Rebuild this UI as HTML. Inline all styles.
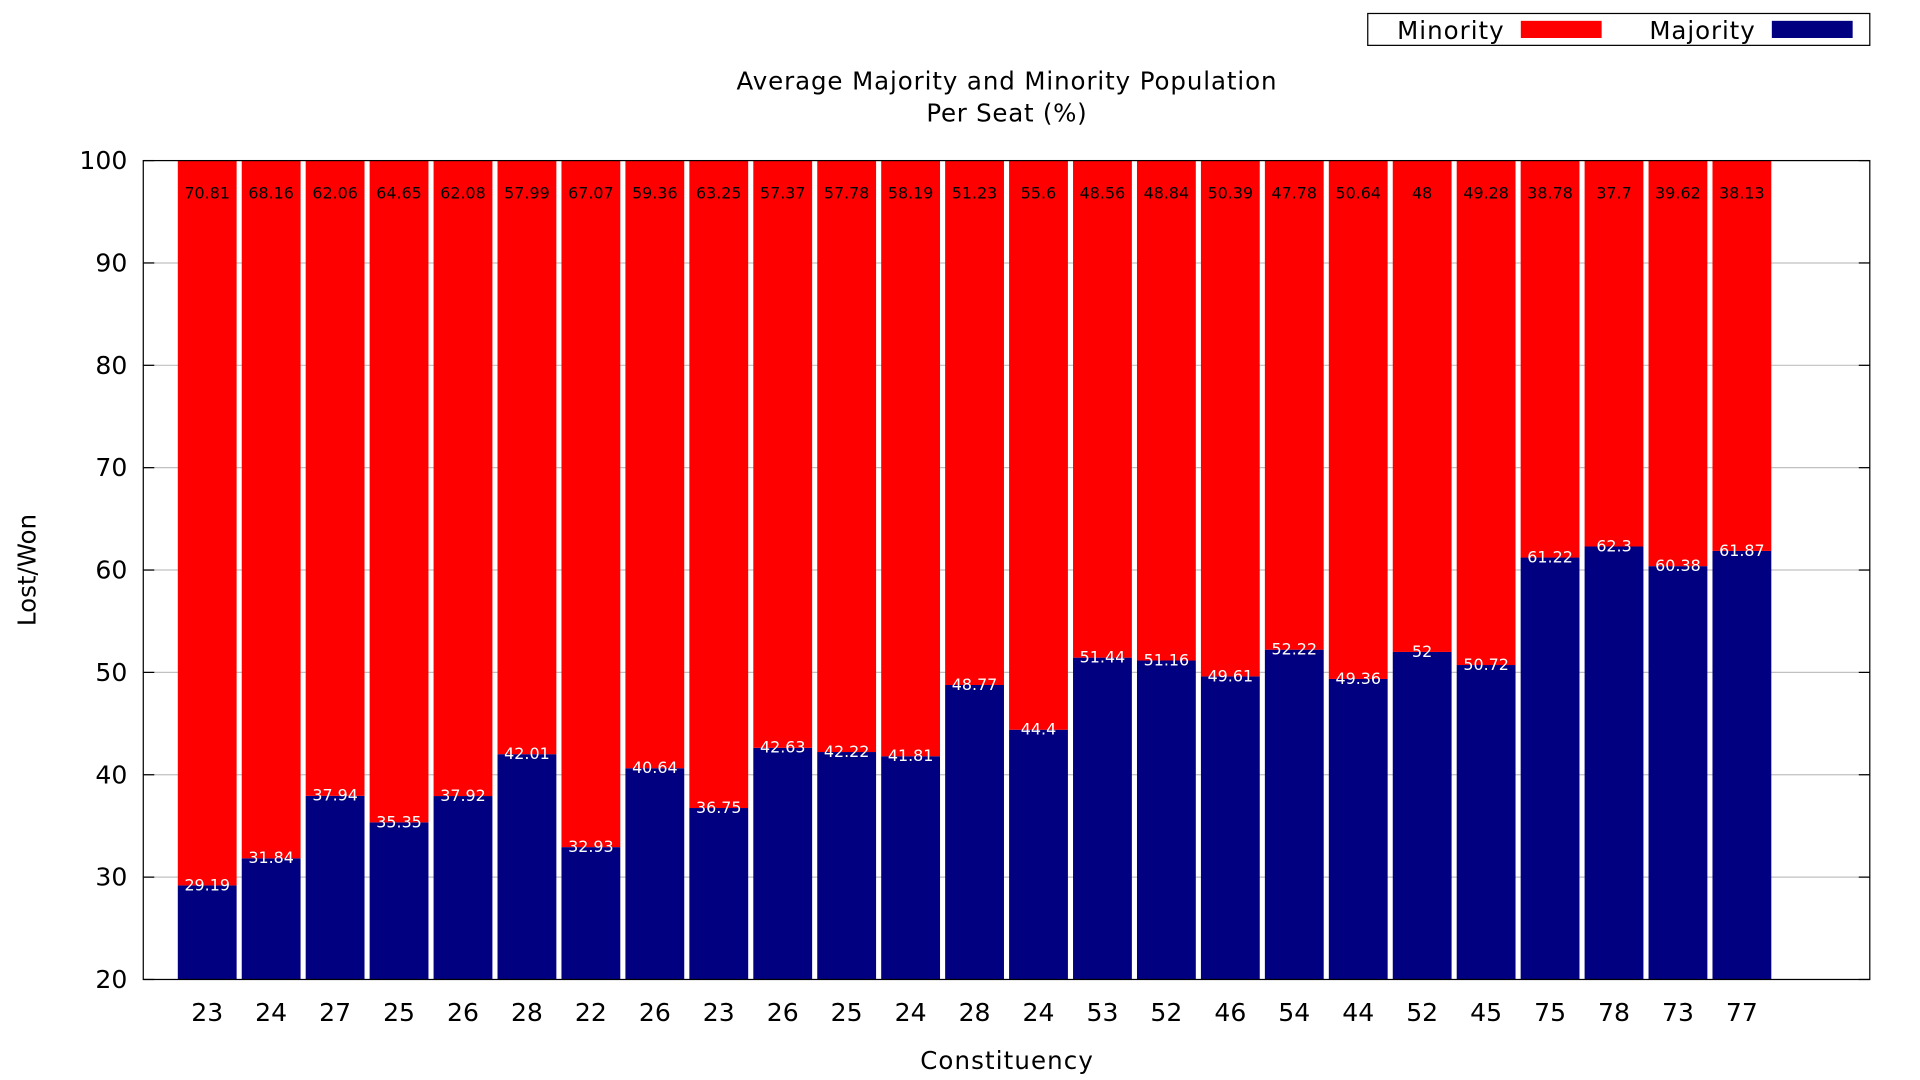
<!DOCTYPE html>
<html><head><meta charset="utf-8"><style>
html,body{margin:0;padding:0;background:#fff;}
svg{display:block;font-family:"DejaVu Sans","Liberation Sans",sans-serif;}
</style></head><body>
<svg id="chart" width="1920" height="1080" viewBox="0 0 1568 881" preserveAspectRatio="none" xmlns="http://www.w3.org/2000/svg">
<g id="grid"></g>
<g id="bars"></g>
<g id="axes"></g>
<text x="822" y="73" font-size="20" textLength="441" text-anchor="middle">Average Majority and Minority Population</text>
<text x="822" y="99" font-size="20" textLength="131" text-anchor="middle">Per Seat (%)</text>
<text x="0" y="0" font-size="20" text-anchor="middle" transform="translate(29,465) rotate(-90)">Lost/Won</text>
<text x="822" y="872" font-size="20" textLength="141" text-anchor="middle">Constituency</text>
<g>
<rect x="1117" y="11" width="410" height="26" fill="#fff" stroke="#000" stroke-width="1"/>
<text x="1228" y="32" font-size="20" textLength="87" text-anchor="end">Minority</text>
<rect x="1242" y="17" width="66" height="14" fill="#ff0000"/>
<text x="1433" y="32" font-size="20" textLength="86" text-anchor="end">Majority</text>
<rect x="1447" y="17" width="66" height="14" fill="#000080"/>
</g>
</svg>
<script>
const categories = ["23","24","27","25","26","28","22","26","23","26","25","24","28","24","53","52","46","54","44","52","45","75","78","73","77"];
const majority = [29.19,31.84,37.94,35.35,37.92,42.01,32.93,40.64,36.75,42.63,42.22,41.81,48.77,44.4,51.44,51.16,49.61,52.22,49.36,52,50.72,61.22,62.3,60.38,61.87];
const minority = [70.81,68.16,62.06,64.65,62.08,57.99,67.07,59.36,63.25,57.37,57.78,58.19,51.23,55.6,48.56,48.84,50.39,47.78,50.64,48,49.28,38.78,37.7,39.62,38.13];
const yTicks = [20,30,40,50,60,70,80,90,100];

const NS = "http://www.w3.org/2000/svg";
const L = 117, R = 1527, T = 131, B = 799;
const yMin = 20, yMax = 100, xMin = -1, xMax = 26;
function yS(v){ return B - (v - yMin) / (yMax - yMin) * (B - T); }
function xS(i){ return L + (i - xMin) / (xMax - xMin) * (R - L); }
function mk(tag, attrs, parent){
  const e = document.createElementNS(NS, tag);
  for (const k in attrs) e.setAttribute(k, attrs[k]);
  parent.appendChild(e);
  return e;
}
const grid = document.getElementById('grid');
const bars = document.getElementById('bars');
const axes = document.getElementById('axes');

yTicks.forEach(function(t){
  const y = yS(t);
  if (t > yMin && t < yMax) {
    const g = mk('line', {x1:L, x2:R, y1:y, y2:y, stroke:'#c0c0c0', 'stroke-width':1}, grid);
    
    
  }
  const tk = mk('line', {x1:L, x2:L+9, y1:y, y2:y, stroke:'#000', 'stroke-width':1}, axes);
  
  
  const tk2 = mk('line', {x1:R-9, x2:R, y1:y, y2:y, stroke:'#000', 'stroke-width':1}, axes);
  
  
  const lb = mk('text', {x:L-13, y:y+7, 'font-size':20.5, 'text-anchor':'end'}, axes);
  lb.textContent = t;
  
  
});

const bw = 0.92 * (xS(1) - xS(0));
categories.forEach(function(c, i){
  const cx = xS(i);
  const yMaj = yS(majority[i]);
  const yTop = yS(Math.min(yMax, majority[i] + minority[i]));
  const rMaj = mk('rect', {x:cx-bw/2, y:yMaj, width:bw, height:B-yMaj, fill:'#000080'}, bars);
  
  
  const rMin = mk('rect', {x:cx-bw/2, y:yTop, width:bw, height:yMaj-yTop, fill:'#ff0000'}, bars);
  
  
  const t1 = mk('text', {x:cx, y:yMaj+4, 'font-size':13, 'text-anchor':'middle', fill:'#fff'}, bars);
  t1.textContent = majority[i];
  
  
  const t2 = mk('text', {x:cx, y:yS(96.9)+5, 'font-size':13, 'text-anchor':'middle', fill:'#000'}, bars);
  t2.textContent = minority[i];
  
  
  const xl = mk('text', {x:cx, y:B+34, 'font-size':20.5, 'text-anchor':'middle'}, axes);
  xl.textContent = c;
  
  
});

const frame = mk('rect', {x:L, y:T, width:R-L, height:B-T, fill:'none', stroke:'#000', 'stroke-width':1}, axes);


</script>
</body></html>
